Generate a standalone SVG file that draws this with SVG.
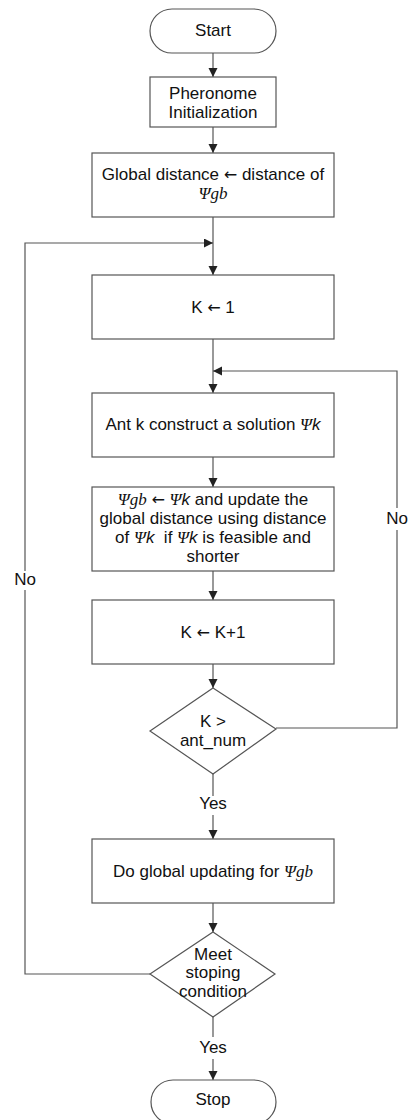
<svg xmlns="http://www.w3.org/2000/svg" width="412" height="1120" viewBox="0 0 412 1120">
<defs>
<marker id="arr" markerUnits="userSpaceOnUse" markerWidth="10" markerHeight="10" refX="9" refY="4.5" orient="auto">
<path d="M0,0 L9,4.5 L0,9 z" fill="#222"/>
</marker>
<style>
.s{fill:#fff;stroke:#555;stroke-width:1.2}
.c{fill:none;stroke:#555;stroke-width:1.2}
.a{marker-end:url(#arr)}
text{font-family:"Liberation Sans",Arial,sans-serif;font-size:17px;fill:#111;text-anchor:middle}
.m{font-family:"Liberation Serif","DejaVu Serif",serif;font-style:italic}
.i{font-style:italic}
.r{font-family:"DejaVu Sans",sans-serif;font-size:16px}
</style>
</defs>
<rect width="412" height="1120" fill="#fff"/>
<g id="connectors">
<path class="c a" d="M213,53 V77"/>
<path class="c a" d="M213,127 V153"/>
<path class="c a" d="M213,217 V275"/>
<path class="c a" d="M150,974 H25 V590 M25,571 V243 H213"/>
<path class="c a" d="M213,339 V393"/>
<path class="c a" d="M276,728 H397 V530 M397,508 V371 H213"/>
<path class="c a" d="M213,457 V487"/>
<path class="c a" d="M213,571 V600"/>
<path class="c a" d="M213,664 V688"/>
<path class="c a" d="M213,774 V796 M213,815 V839"/>
<path class="c a" d="M213,903 V932"/>
<path class="c a" d="M213,1017 V1037 M213,1059 V1080"/>
<text x="25" y="585">No</text>
<text x="397" y="524">No</text>
<text x="213" y="809">Yes</text>
<text x="213" y="1053">Yes</text>
</g>
<g id="start">
<rect class="s" x="150" y="9" width="126" height="44" rx="22"/>
<text x="213" y="36">Start</text>
</g>
<g id="init">
<rect class="s" x="150" y="77" width="126" height="50"/>
<text x="213" y="99">Pheronome</text>
<text x="213" y="118">Initialization</text>
</g>
<g id="global">
<rect class="s" x="92" y="153" width="242" height="64"/>
<text x="213" y="180">Global distance <tspan class="r">←</tspan> distance of</text>
<text x="213" y="199" class="m">Ψgb</text>
</g>
<g id="k1">
<rect class="s" x="92" y="275" width="242" height="64"/>
<text x="213" y="313">K <tspan class="r">←</tspan> 1</text>
</g>
<g id="ant">
<rect class="s" x="92" y="393" width="242" height="64"/>
<text x="213" y="430">Ant k construct a solution <tspan class="m">Ψ</tspan><tspan class="i">k</tspan></text>
</g>
<g id="update">
<rect class="s" x="92" y="487" width="242" height="84"/>
<text x="213" y="505"><tspan class="m">Ψgb</tspan> <tspan class="r">←</tspan> <tspan class="m">Ψ</tspan><tspan class="i">k</tspan> and update the</text>
<text x="213" y="524">global distance using distance</text>
<text x="213" y="543">of <tspan class="m">Ψ</tspan><tspan class="i">k</tspan>&#160; if <tspan class="m">Ψ</tspan><tspan class="i">k</tspan> is feasible and</text>
<text x="213" y="562">shorter</text>
</g>
<g id="kinc">
<rect class="s" x="92" y="600" width="242" height="64"/>
<text x="213" y="638">K <tspan class="r">←</tspan> K+1</text>
</g>
<g id="dec1">
<polygon class="s" points="213,688 276,729 213,774 150,731"/>
<text x="213" y="727">K &gt;</text>
<text x="213" y="746">ant_num</text>
</g>
<g id="globalupd">
<rect class="s" x="92" y="839" width="242" height="64"/>
<text x="213" y="877">Do global updating for <tspan class="m">Ψgb</tspan></text>
</g>
<g id="dec2">
<polygon class="s" points="213,932 275,974 213,1017 150,974"/>
<text x="213" y="960">Meet</text>
<text x="213" y="978">stoping</text>
<text x="213" y="997">condition</text>
</g>
<g id="stop">
<rect class="s" x="151" y="1080" width="125" height="44" rx="22"/>
<text x="213" y="1105">Stop</text>
</g>
</svg>
